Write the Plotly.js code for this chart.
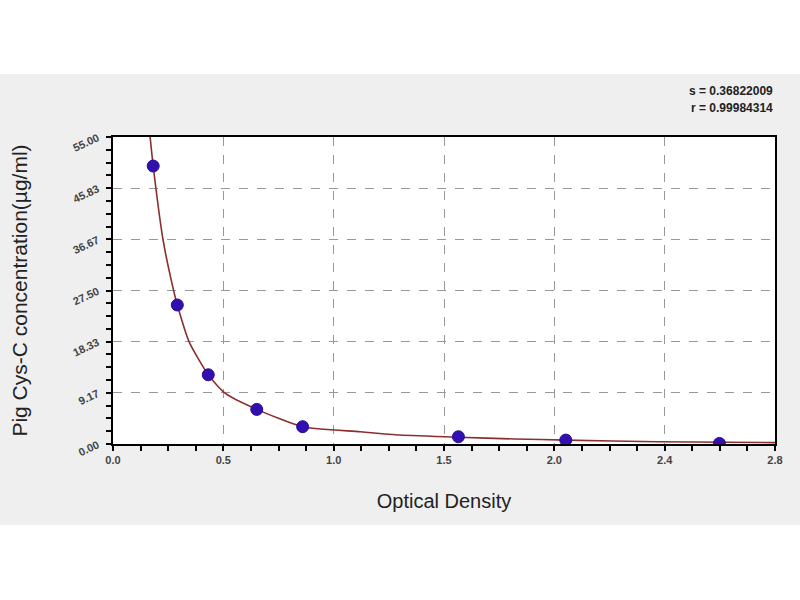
<!DOCTYPE html>
<html>
<head>
<meta charset="utf-8">
<script src="https://cdn.plot.ly/plotly-3.0.1.min.js"></script>
<style>
  body { margin: 0; }
  #chart {
    width: 800px; height: 600px;
    background: linear-gradient(to bottom, #ffffff 0px, #ffffff 74px, #efefef 74px, #efefef 525px, #ffffff 525px);
  }
</style>
</head>
<body>
<div id="chart"></div>
<script>
    // standard points (optical density vs concentration)
    var odValues = [0.170, 0.272, 0.403, 0.608, 0.802, 1.461, 1.915, 2.565];
    var concValues = [49.8, 24.9, 12.4, 6.2, 3.1, 1.3, 0.7, 0.1];

    // fitted curve
    var curveX = [0.157, 0.170, 0.212, 0.258, 0.272, 0.322, 0.403, 0.474, 0.608, 0.802, 1.045, 1.214, 1.461, 1.700, 1.915, 2.300, 2.800];
    var curveY = [55.0, 49.8, 36.5, 27.2, 24.9, 18.3, 12.4, 9.1, 6.2, 3.1, 2.2, 1.6, 1.2, 0.9, 0.7, 0.4, 0.25];

    // axis ticks
    var xTickVals = [0, 2.8/6, 2*2.8/6, 3*2.8/6, 4*2.8/6, 5*2.8/6, 2.8];
    var xTickText = ['0.0', '0.5', '1.0', '1.5', '2.0', '2.4', '2.8'];
    var yTickVals = [0, 55/6, 2*55/6, 3*55/6, 4*55/6, 5*55/6, 55];
    var yTickText = ['0.00', '9.17', '18.33', '27.50', '36.67', '45.83', '55.00'];

    var data = [
        {x: curveX, y: curveY,
         type: 'scatter', mode: 'lines',
         line: {color: '#8b2e2e', width: 1.6, shape: 'spline', smoothing: 0.6},
         hoverinfo: 'skip'},
        {x: odValues, y: concValues,
         type: 'scatter', mode: 'markers',
         marker: {color: '#3210b0', size: 12, symbol: 'circle',
                  line: {color: '#2a0c90', width: 1}}}
    ];

    var axisCommon = {
        showline: true, linecolor: '#000', linewidth: 2, mirror: true,
        ticks: 'outside', ticklen: 5, tickcolor: '#000', tickwidth: 1.5,
        showgrid: true, gridcolor: '#999', griddash: 'dash', gridwidth: 1,
        zeroline: false, tickmode: 'array'
    };

    var layout = {
        width: 800, height: 600,
        paper_bgcolor: 'rgba(0,0,0,0)',
        plot_bgcolor: '#ffffff',
        showlegend: false,
        margin: {l: 113, r: 25, t: 137, b: 156},
        font: {family: 'Liberation Sans, Arial, sans-serif', color: '#222'},
        xaxis: Object.assign({}, axisCommon, {
            range: [0, 2.8],
            tickvals: xTickVals, ticktext: xTickText,
            tickfont: {size: 11, color: '#444', weight: 'bold'},
            minor: {dtick: 2.8/24, tick0: 0, ticks: 'outside', ticklen: 5, tickcolor: '#000', showgrid: false},
            title: {text: 'Optical Density', font: {size: 20, color: '#222'}, standoff: 29}
        }),
        yaxis: Object.assign({}, axisCommon, {
            range: [0, 55],
            tickvals: yTickVals, ticktext: yTickText,
            tickangle: -25,
            ticklabelstandoff: 6,
            tickfont: {size: 11, color: '#444', weight: 'bold'},
            minor: {dtick: 55/24, tick0: 0, ticks: 'outside', ticklen: 5, tickcolor: '#000', showgrid: false},
            title: {text: 'Pig Cys-C concentration(µg/ml)', font: {size: 21, color: '#222'}, standoff: 38}
        }),
        annotations: [
            {xref: 'paper', yref: 'paper', x: 1.0, y: 1.15, xanchor: 'right', yanchor: 'middle',
             text: 's = 0.36822009', showarrow: false, font: {size: 12, color: '#222', weight: 'bold'}},
            {xref: 'paper', yref: 'paper', x: 1.0, y: 1.095, xanchor: 'right', yanchor: 'middle',
             text: 'r = 0.99984314', showarrow: false, font: {size: 12, color: '#222', weight: 'bold'}}
        ]
    };
    var config = {responsive: false, displayModeBar: false};
    Plotly.newPlot('chart', data, layout, config);
</script>
</body>
</html>
